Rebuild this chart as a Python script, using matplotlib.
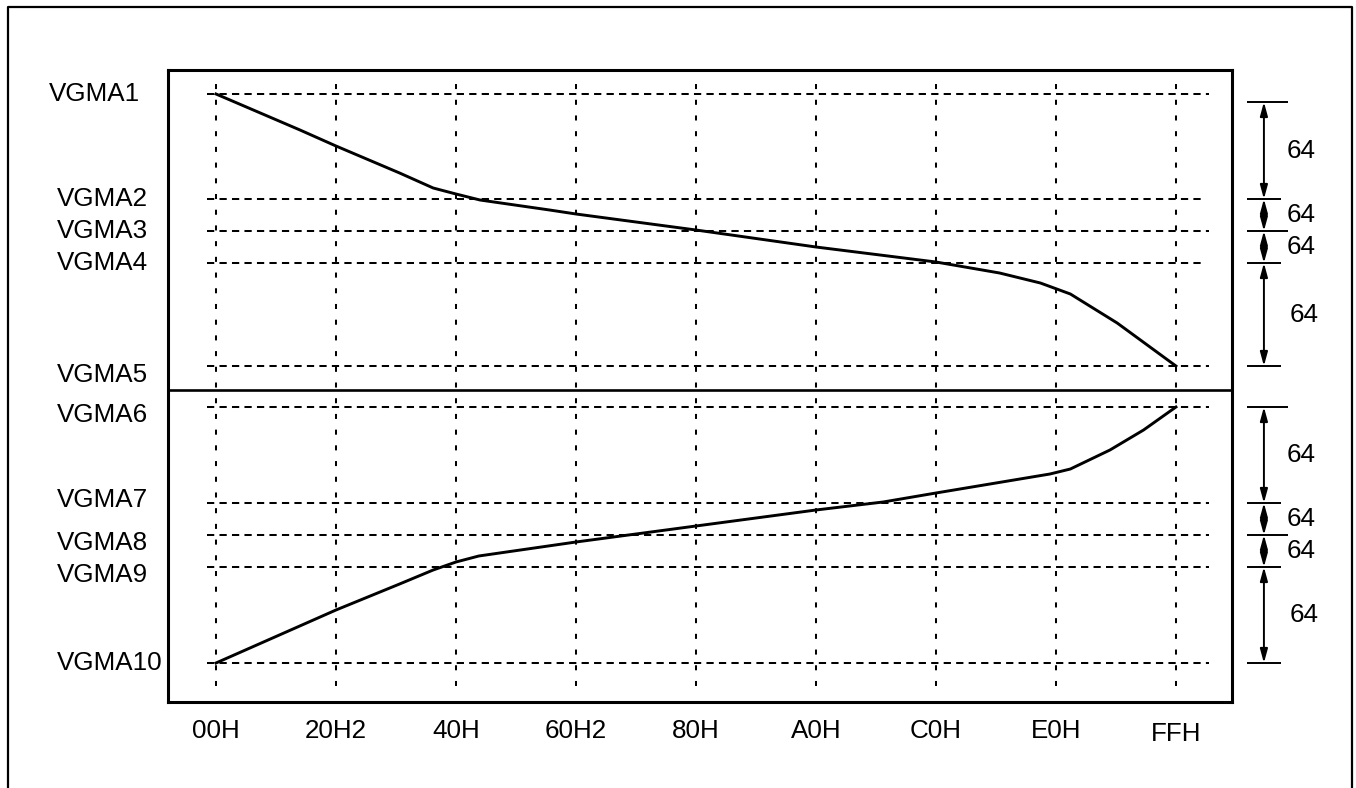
import matplotlib
matplotlib.use('agg')
import matplotlib.pyplot as plt
from matplotlib import transforms

plt.rcParams['font.family'] = ['Liberation Sans', 'DejaVu Sans']

# gray level grid (one unit per column)
grid_labels = ['00H', '20H2', '40H', '60H2', '80H', 'A0H', 'C0H', 'E0H', 'FFH']

# reference levels (arbitrary units, bottom of box = 0)
level_names = ['VGMA1', 'VGMA2', 'VGMA3', 'VGMA4', 'VGMA5',
               'VGMA6', 'VGMA7', 'VGMA8', 'VGMA9', 'VGMA10']
level_values = [608, 503, 471, 439, 336, 295, 199, 167, 135, 39]
divider_level = 312

# gamma curves
upper_x = [0, 0.7, 1.0, 1.53, 1.81, 2.0, 2.2, 2.78, 3.0, 4.0, 5.0, 6.0,
           6.53, 6.87, 7.12, 7.51, 8.0]
upper_y = [608, 572, 556, 529, 514, 508, 502, 492, 488, 472, 455, 440,
           429, 419, 408, 379, 336]
lower_x = [0, 1.0, 1.53, 1.81, 2.0, 2.19, 3.0, 4.0, 5.0, 5.56, 6.0, 6.4,
           6.95, 7.12, 7.45, 7.73, 8.0]
lower_y = [39, 92, 118, 132, 140, 146, 160, 176, 192, 200, 209, 217,
           228, 233, 252, 272, 295]

# dimension brackets on the right
bracket_upper = [600, 503, 471, 439, 336]
bracket_lower = [295, 199, 167, 135, 39]
span_label = '64'

W, H = 1356, 788
fig = plt.figure(figsize=(W / 100, H / 100), dpi=100)
ax = fig.add_axes([168 / W, 86 / H, 1064 / W, 632 / H])
ax.set_xlim(-0.4, 8.467)
ax.set_ylim(0, 632)

for s in ax.spines.values():
    s.set_linewidth(2.2)

# dashed grid
hdash = (0, (3.6, 2.6))
vdash = (0, (2.5, 5.3))
short_right = {'VGMA2', 'VGMA4'}
for name, lv in zip(level_names, level_values):
    xr = 8.21 if name in short_right else 8.275
    ax.hlines(lv, -0.075, xr, colors='black', linewidth=1.45, linestyles=hdash)
ax.vlines(range(len(grid_labels)), 16, 624, colors='black', linewidth=1.45,
          linestyles=vdash)

ax.axhline(divider_level, color='black', linewidth=1.9)

ax.plot(upper_x, upper_y, color='black', linewidth=2.1)
ax.plot(lower_x, lower_y, color='black', linewidth=2.1)

ax.set_xticks(range(len(grid_labels)), grid_labels)
ax.set_yticks([])
ax.tick_params(axis='x', length=0, pad=12, labelsize=18.7)
last = ax.get_xticklabels()[-1]
last.set_transform(last.get_transform() +
                   transforms.ScaledTranslation(0, -0.03, fig.dpi_scale_trans))

# level labels on the left
nudge = {'VGMA1': (-8, 0), 'VGMA5': (0, -9), 'VGMA6': (0, -8),
         'VGMA7': (0, 3), 'VGMA8': (0, -8), 'VGMA9': (0, -8)}
base = transforms.blended_transform_factory(fig.transFigure, ax.transData)
for name, lv in zip(level_names, level_values):
    dx, dy = nudge.get(name, (0, 0))
    tr = base + transforms.ScaledTranslation(dx / 100, dy / 100, fig.dpi_scale_trans)
    ax.text(57 / W, lv, name, transform=tr, ha='left', va='center',
            fontsize=18.7, clip_on=False)

# brackets with double arrows
x_bar = 8.733
for group in (bracket_upper, bracket_lower):
    for i, lv in enumerate(group):
        xr = 8.933 if i in (0, 2) else 8.875
        ax.hlines(lv, 8.592, xr, colors='black', linewidth=1.4, clip_on=False)
    for i in range(len(group) - 1):
        top, bot = group[i], group[i + 1]
        ax.annotate('', xy=(x_bar, bot), xytext=(x_bar, top),
                    annotation_clip=False,
                    arrowprops=dict(arrowstyle='<|-|>,head_length=0.55,head_width=0.15',
                                    mutation_scale=15, color='black', lw=1.4,
                                    shrinkA=0, shrinkB=0))
        tx = 8.95 if i == len(group) - 2 else 8.925
        ax.text(tx, (top + bot) / 2, span_label, ha='left', va='center',
                fontsize=18.7, clip_on=False)

# outer frame (open at the bottom)
fig.add_artist(plt.Line2D([8 / W, 8 / W, 1352 / W, 1352 / W],
                          [0, 1 - 7 / H, 1 - 7 / H, 0],
                          transform=fig.transFigure, color='black', linewidth=1.6))

fig.savefig('out.png', dpi=100)
